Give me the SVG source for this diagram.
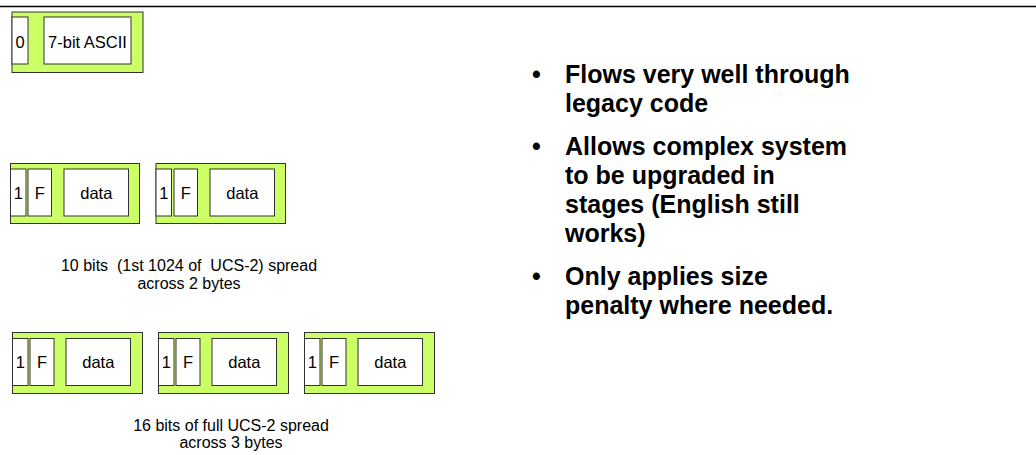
<svg xmlns="http://www.w3.org/2000/svg" width="1036" height="455" viewBox="0 0 1036 455">
<style>
.g{fill:#ccff66;stroke:#333;stroke-width:1}
.w{fill:#fff;stroke:#333;stroke-width:1}
.t{font-family:"Liberation Sans",Arial,sans-serif;font-size:16.5px;fill:#000;text-anchor:middle}
.c{font-family:"Liberation Sans",Arial,sans-serif;font-size:16px;fill:#000;text-anchor:middle}
.b{font-family:"Liberation Sans",Arial,sans-serif;font-size:25px;font-weight:bold;fill:#000}
</style>
<rect width="1036" height="455" fill="#fff"/>
<line x1="0" y1="6.5" x2="1036" y2="6.5" stroke="#000" stroke-width="1.5"/>
<g id="ascii">
<rect class="g" x="12" y="12" width="131" height="60.5"/>
<rect class="w" x="12" y="17" width="16" height="47"/>
<rect class="w" x="44" y="17" width="87" height="47"/>
<text class="t" x="20" y="48">0</text>
<text class="t" x="87.5" y="48">7-bit ASCII</text>
</g>
<g id="two-byte-1">
<rect class="g" x="10.5" y="163.5" width="129" height="60"/>
<rect class="w" x="10.5" y="169" width="15.5" height="47"/>
<rect class="w" x="28" y="169" width="23.5" height="47"/>
<rect class="w" x="64" y="169" width="64.5" height="47"/>
<text class="t" x="18.3" y="199">1</text>
<text class="t" x="39.8" y="199">F</text>
<text class="t" x="96.3" y="199">data</text>
</g>
<g id="two-byte-2">
<rect class="g" x="156" y="163.5" width="129.5" height="60"/>
<rect class="w" x="156" y="169" width="15.5" height="47"/>
<rect class="w" x="174" y="169" width="23.5" height="47"/>
<rect class="w" x="210" y="169" width="64.5" height="47"/>
<text class="t" x="163.8" y="199">1</text>
<text class="t" x="185.8" y="199">F</text>
<text class="t" x="242.3" y="199">data</text>
</g>
<text class="c" x="189" y="271" xml:space="preserve">10 bits  (1st 1024 of  UCS-2) spread</text>
<text class="c" x="189" y="289">across 2 bytes</text>
<g id="three-byte-1">
<rect class="g" x="12.5" y="332.5" width="130" height="61"/>
<rect class="w" x="12.5" y="338.5" width="15.5" height="47"/>
<rect class="w" x="30" y="338.5" width="24" height="47"/>
<rect class="w" x="66" y="338.5" width="64.5" height="47"/>
<text class="t" x="20.3" y="368">1</text>
<text class="t" x="42" y="368">F</text>
<text class="t" x="98.3" y="368">data</text>
</g>
<g id="three-byte-2">
<rect class="g" x="158.5" y="332.5" width="130" height="61"/>
<rect class="w" x="158.5" y="338.5" width="15.5" height="47"/>
<rect class="w" x="176" y="338.5" width="24" height="47"/>
<rect class="w" x="212" y="338.5" width="64.5" height="47"/>
<text class="t" x="166.3" y="368">1</text>
<text class="t" x="188" y="368">F</text>
<text class="t" x="244.3" y="368">data</text>
</g>
<g id="three-byte-3">
<rect class="g" x="304.5" y="332.5" width="130" height="61"/>
<rect class="w" x="304.5" y="338.5" width="15.5" height="47"/>
<rect class="w" x="322" y="338.5" width="24" height="47"/>
<rect class="w" x="358" y="338.5" width="64.5" height="47"/>
<text class="t" x="312.3" y="368">1</text>
<text class="t" x="334" y="368">F</text>
<text class="t" x="390.3" y="368">data</text>
</g>
<text class="c" x="231" y="431">16 bits of full UCS-2 spread</text>
<text class="c" x="231" y="448">across 3 bytes</text>
<g id="bullets" class="b">
<text x="532" y="83">•</text>
<text x="565" y="83">Flows very well through</text>
<text x="565" y="112">legacy code</text>
<text x="532" y="155">•</text>
<text x="565" y="155">Allows complex system</text>
<text x="565" y="184">to be upgraded in</text>
<text x="565" y="213">stages (English still</text>
<text x="565" y="242">works)</text>
<text x="532" y="285">•</text>
<text x="565" y="285">Only applies size</text>
<text x="565" y="314">penalty where needed.</text>
</g>
</svg>
